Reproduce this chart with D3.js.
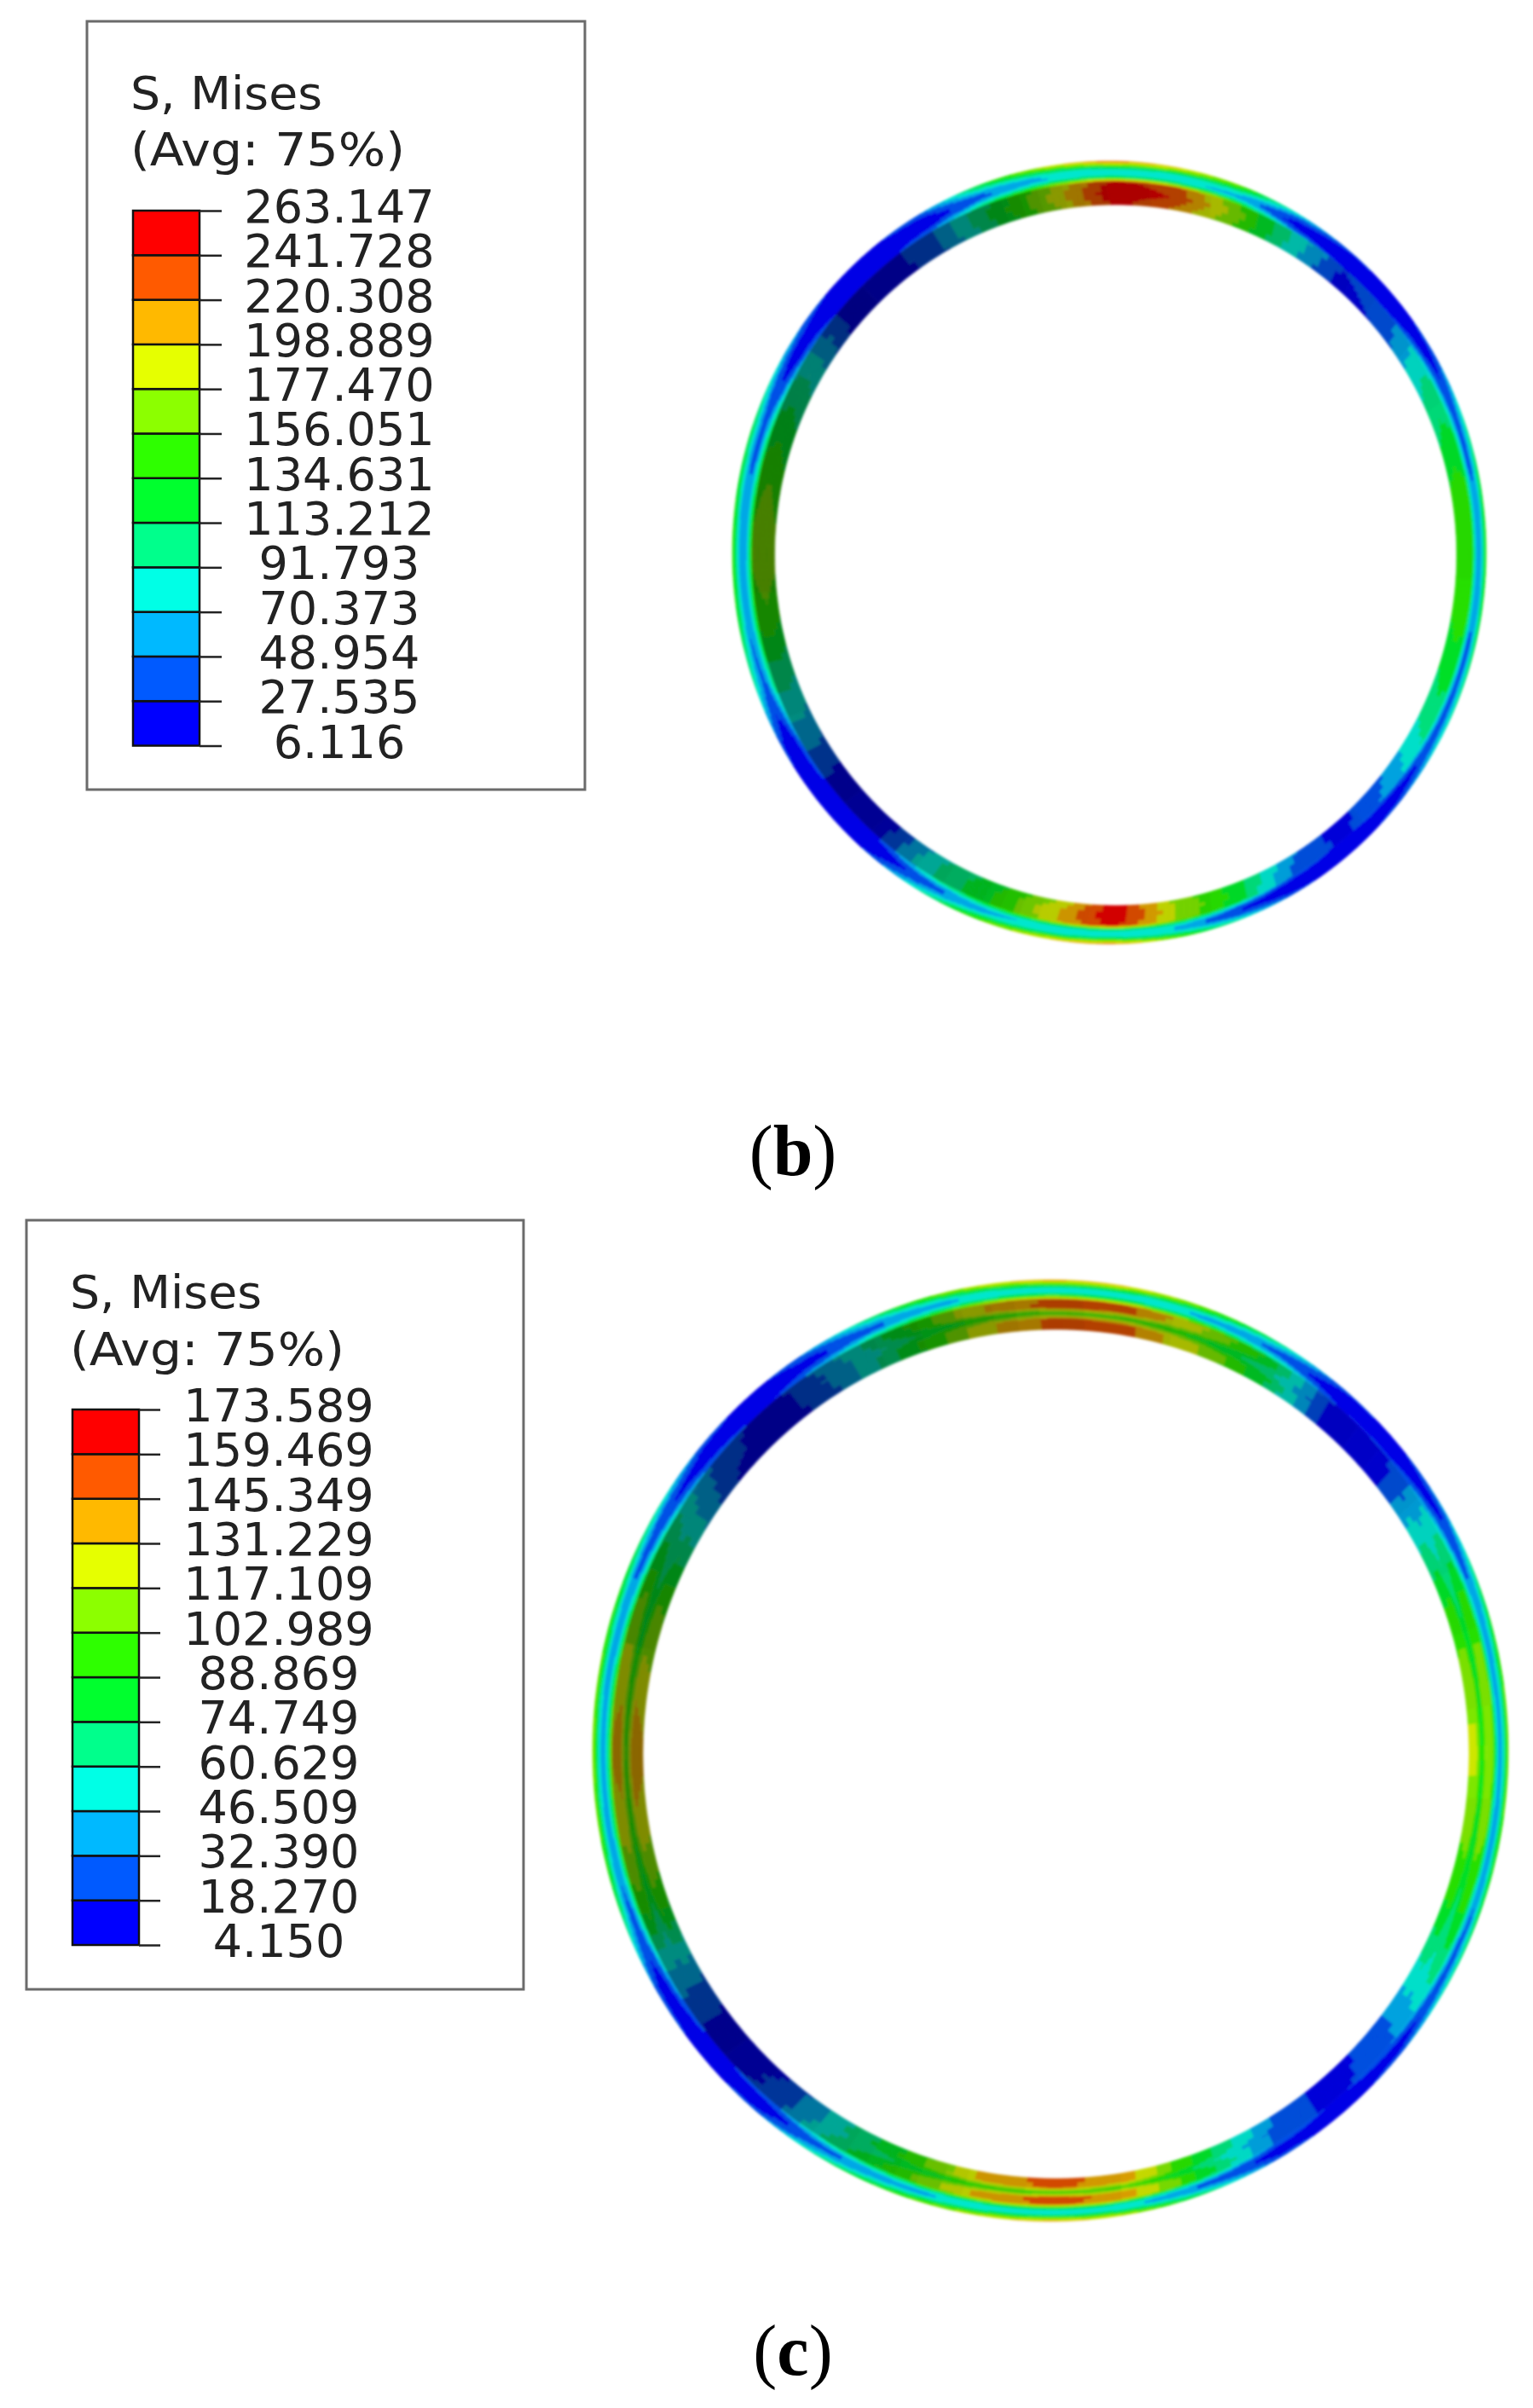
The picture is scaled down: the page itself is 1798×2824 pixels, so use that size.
<!DOCTYPE html>
<html><head><meta charset="utf-8">
<script src="https://d3js.org/d3.v7.min.js"></script>
<style>html,body{margin:0;padding:0;background:#fff}svg{display:block}</style>
</head><body><svg id="c" width="1798" height="2824" viewBox="0 0 1798 2824"></svg>
<script>
// Legend colours and stress levels
const palette = ["#0000ff","#005aff","#00b9ff","#00ffe6","#00ff8c","#00ff2e","#2eff00","#8cff00","#e6ff00","#ffb900","#ff5a00","#ff0000"];
const ticksB = [6.116,27.535,48.954,70.373,91.793,113.212,134.631,156.051,177.470,198.889,220.308,241.728,263.147];
const labelsB = ["6.116","27.535","48.954","70.373","91.793","113.212","134.631","156.051","177.470","198.889","220.308","241.728","263.147"];
const ticksC = [4.150,18.270,32.390,46.509,60.629,74.749,88.869,102.989,117.109,131.229,145.349,159.469,173.589];
const labelsC = ["4.150","18.270","32.390","46.509","60.629","74.749","88.869","102.989","117.109","131.229","145.349","159.469","173.589"];
const titleLines = ["S, Mises","(Avg: 75%)"];

// Radial sampling positions, outer edge = 0, inner edge = 1
const layersB = [0,.07,.14,.21,.29,.36,.43,.48,.74,1];
const layersC = [0,.06,.12,.18,.24,.30,.36,.41,.55,.67,.80,1];
const boundaryB = .46, boundaryC = .39;

// Stress read around the ring every 10 degrees, clockwise from the top; one row per angle, outer to inner
const stressB = [
[235,185,125,85,80,115,200,250,262,250],[205,170,120,80,75,110,180,230,240,215],[165,140,105,75,65,95,150,165,170,155],
[85,55,35,22,20,30,50,95,90,80],[35,15,10,8,8,10,15,28,22,18],[20,10,8,8,10,15,25,40,35,30],
[45,30,22,22,30,50,75,88,88,80],[100,80,55,40,45,70,100,112,118,105],[135,110,75,50,50,80,115,140,145,138],
[150,125,80,50,50,85,120,150,155,142],[135,110,75,50,50,80,115,140,145,135],[115,90,65,45,45,70,105,118,122,110],
[85,70,50,35,35,55,80,95,90,85],[40,25,18,15,15,22,40,55,50,45],[12,10,8,8,10,15,22,22,20,18],
[35,20,12,10,12,20,35,45,50,55],[100,70,45,30,30,50,90,125,128,125],[170,135,95,70,70,100,150,175,180,170],
[235,180,125,85,80,110,190,250,262,255],[200,165,115,80,75,100,160,190,195,175],[160,135,100,70,65,90,130,135,135,125],
[100,80,55,40,40,60,90,95,95,85],[30,18,14,12,12,18,28,25,25,20],[15,10,8,8,10,15,20,12,10,10],
[35,22,15,12,15,25,45,60,60,50],[100,80,60,45,50,75,105,100,100,90],[135,110,80,50,55,90,130,145,150,135],
[150,125,80,50,50,90,135,160,175,165],[135,110,75,50,50,85,125,150,160,145],[120,95,65,45,45,70,110,125,130,115],
[75,50,30,22,20,30,55,85,90,80],[30,18,12,10,10,15,22,28,28,22],[20,12,8,8,8,12,18,12,10,10],
[50,30,18,14,14,22,40,50,50,45],[130,105,75,50,45,70,110,115,120,110],[190,150,110,75,70,100,160,175,185,170]];
const stressC = [
[145,115,85,55,60,85,130,150,152,100,150,152],[135,110,80,52,55,80,122,147,147,98,147,147],[110,90,65,45,45,70,100,120,116,85,116,118],
[75,55,40,30,30,45,65,85,80,65,80,75],[22,14,10,8,8,10,18,15,13,14,12,12],[16,10,8,6,8,12,20,17,16,16,16,15],
[45,28,18,18,22,36,50,58,55,50,58,55],[85,65,45,35,35,55,80,92,92,72,92,88],[105,85,60,40,40,60,90,110,112,84,112,110],
[110,90,60,40,40,65,95,112,118,88,120,122],[105,85,60,38,40,60,90,105,110,82,110,105],[90,70,50,32,35,55,80,92,92,72,92,88],
[70,50,35,25,28,40,60,65,62,55,60,55],[30,18,12,12,15,25,32,30,28,28,25,25],[10,8,6,6,8,12,14,14,12,12,12,12],
[30,18,13,12,14,22,32,30,32,30,35,35],[80,60,42,30,30,48,75,85,85,70,85,85],[125,100,75,50,52,75,115,138,138,98,135,135],
[145,115,85,55,60,85,128,150,152,100,150,152],[125,100,75,50,52,78,115,135,135,95,135,135],[100,80,58,42,42,60,88,100,98,78,96,92],
[75,55,40,30,30,45,65,70,65,58,60,58],[28,16,13,11,11,16,26,24,20,22,20,18],[12,8,6,6,6,10,14,10,8,10,8,8],
[34,20,15,13,16,25,42,42,40,38,40,35],[85,65,45,30,32,50,80,95,98,74,98,90],[108,88,60,38,40,65,98,122,125,88,126,120],
[115,92,62,40,42,68,100,135,140,92,146,135],[108,88,60,38,40,65,95,124,126,88,124,118],[95,75,52,34,36,55,82,104,106,78,104,100],
[70,50,32,22,22,36,58,70,65,58,60,55],[28,18,13,11,11,16,25,28,24,24,20,18],[12,8,6,6,6,8,14,10,8,10,8,8],
[45,30,20,18,18,30,45,45,40,40,38,35],[90,70,50,35,35,55,80,88,85,70,84,82],[125,100,72,50,50,75,112,128,128,92,125,125]];

// Lighting of the inner face around the ring, every 10 degrees
const shadeB = [.67,.7,.72,.72,.75,.8,.82,.85,.85,.85,.88,.88,.88,.88,.85,.85,.85,.82,.82,.8,.72,.65,.6,.55,.55,.52,.52,.5,.5,.5,.5,.5,.52,.52,.52,.6];
const shadeC = [.68,.7,.72,.72,.74,.8,.82,.85,.88,.9,.88,.88,.88,.88,.85,.85,.85,.84,.82,.8,.72,.65,.6,.55,.55,.55,.55,.55,.55,.52,.52,.52,.52,.52,.55,.6];
const outerShade = .9;

const svg = d3.select("#c");
const defs = svg.append("defs");
defs.append("filter").attr("id","soft").attr("x","-5%").attr("y","-5%").attr("width","110%").attr("height","110%")
  .append("feGaussianBlur").attr("stdDeviation",1.6);
defs.append("filter").attr("id","softText").attr("x","-5%").attr("y","-5%").attr("width","110%").attr("height","110%")
  .append("feGaussianBlur").attr("stdDeviation",.6);

function legend(o){
  const g = svg.append("g");
  g.append("rect").attr("x",o.box[0]).attr("y",o.box[1]).attr("width",o.box[2]-o.box[0]).attr("height",o.box[3]-o.box[1])
    .attr("fill","#fff").attr("stroke","#6b6b6b").attr("stroke-width",3);
  const t = g.append("g").attr("font-family","'DejaVu Sans'").attr("font-size",o.fs).attr("fill","#222").attr("filter","url(#softText)");
  titleLines.forEach((s,i)=>t.append("text").attr("x",o.titleX).attr("y",o.titleY[i])
    .attr("textLength",o.titleW[i]).attr("lengthAdjust","spacingAndGlyphs").text(s));
  const y = d3.scalePoint().domain(d3.range(o.ticks.length)).range([o.barY[1],o.barY[0]]);
  const cells = d3.pairs(d3.range(o.ticks.length));
  g.selectAll("rect.cell").data(cells).join("rect").attr("class","cell")
    .attr("x",o.barX[0]).attr("width",o.barX[1]-o.barX[0])
    .attr("y",d=>y(d[1])).attr("height",d=>y(d[0])-y(d[1]))
    .attr("fill",d=>palette[d[0]]).attr("stroke","#111").attr("stroke-width",2.5);
  const ax = d3.axisRight(y).tickSizeOuter(0).tickSize(o.tickEnd-o.barX[1]).tickPadding(0).tickFormat(i=>o.labels[i]);
  const a = g.append("g").attr("transform",`translate(${o.barX[1]},0)`).call(ax);
  a.select(".domain").remove();
  a.selectAll("line").attr("stroke","#222").attr("stroke-width",2.5);
  a.selectAll("text").attr("x",o.labelX-o.barX[1]).attr("dy",o.dy).attr("text-anchor","middle")
    .attr("font-family","'DejaVu Sans'").attr("font-size",o.fs).attr("fill","#222").attr("filter","url(#softText)");
}

function ring(o){
  const cx = d3.scaleLinear().domain([0,1]).range([o.outer[0],o.inner[0]]);
  const cy = d3.scaleLinear().domain([0,1]).range([o.outer[1],o.inner[1]]);
  const rx = d3.scaleLinear().domain([0,1]).range([o.outer[2],o.inner[2]]);
  const ry = d3.scaleLinear().domain([0,1]).range([o.outer[3],o.inner[3]]);
  const color = d3.scaleThreshold().domain(o.ticks.slice(1,-1)).range(palette);
  const n = o.stress.length, NA = 360, NR = 60;
  const layerPos = d3.scaleLinear().domain(o.layers).range(d3.range(o.layers.length)).clamp(true);
  const sample = (row,u)=>{const i=Math.min(Math.floor(u),o.layers.length-2),f=u-i;return row[i]*(1-f)+row[i+1]*f;};
  const pt = (a,t)=>[cx(t)+rx(t)*Math.sin(a),cy(t)-ry(t)*Math.cos(a)];
  const groups = new Map();
  for(let ia=0;ia<NA;ia++){
    const q=(ia+.5)/NA*n, k=Math.floor(q)%n, f=q-Math.floor(q), k2=(k+1)%n;
    const a0=ia/NA*2*Math.PI, a1=(ia+1)/NA*2*Math.PI;
    const sh=o.shade[k]*(1-f)+o.shade[k2]*f;
    for(let ir=0;ir<NR;ir++){
      const t0=ir/NR,t1=(ir+1)/NR,tm=(t0+t1)/2,u=layerPos(tm);
      const v=sample(o.stress[k],u)*(1-f)+sample(o.stress[k2],u)*f;
      const s=tm<o.boundary?outerShade:Math.round(sh*40)/40;
      const c=d3.rgb(color(v));
      const key=d3.rgb(c.r*s,c.g*s,c.b*s).formatHex();
      const p=[pt(a0,t0),pt(a1,t0),pt(a1,t1),pt(a0,t1)];
      if(!groups.has(key))groups.set(key,[]);
      groups.get(key).push("M"+p.map(d=>d[0].toFixed(1)+","+d[1].toFixed(1)).join("L")+"Z");
    }
  }
  svg.append("g").attr("filter","url(#soft)").selectAll("path").data([...groups]).join("path")
    .attr("d",d=>d[1].join("")).attr("fill",d=>d[0]).attr("stroke",d=>d[0]).attr("stroke-width",.6);
}

legend({box:[102,25,686,926],barX:[156,234],barY:[247,874.5],tickEnd:260,labelX:398,titleX:153,titleW:[225,322],titleY:[128,194],fs:54,dy:13.5,ticks:ticksB,labels:labelsB});
ring({outer:[1301,648,442,459],inner:[1308.5,651,400,411],stress:stressB,shade:shadeB,layers:layersB,boundary:boundaryB,ticks:ticksB});
legend({box:[31,1431,614,2333],barX:[85,163],barY:[1653,2281],tickEnd:188,labelX:327,titleX:82,titleW:[225,322],titleY:[1534,1601],fs:54,dy:13.5,ticks:ticksC,labels:labelsC});
ring({outer:[1232,2053,537,552],inner:[1238.5,2057,484.5,498],stress:stressC,shade:shadeC,layers:layersC,boundary:boundaryC,ticks:ticksC});

const caps=[["b",930,1378],["c",930,2785]];
caps.forEach(([l,x,y])=>{
  const t=svg.append("text").attr("x",x).attr("y",y).attr("text-anchor","middle").attr("font-family","'Liberation Serif'").attr("font-size",84).attr("fill","#000");
  t.append("tspan").text("(");
  t.append("tspan").attr("font-weight","bold").text(l);
  t.append("tspan").text(")");
});
</script></body></html>
